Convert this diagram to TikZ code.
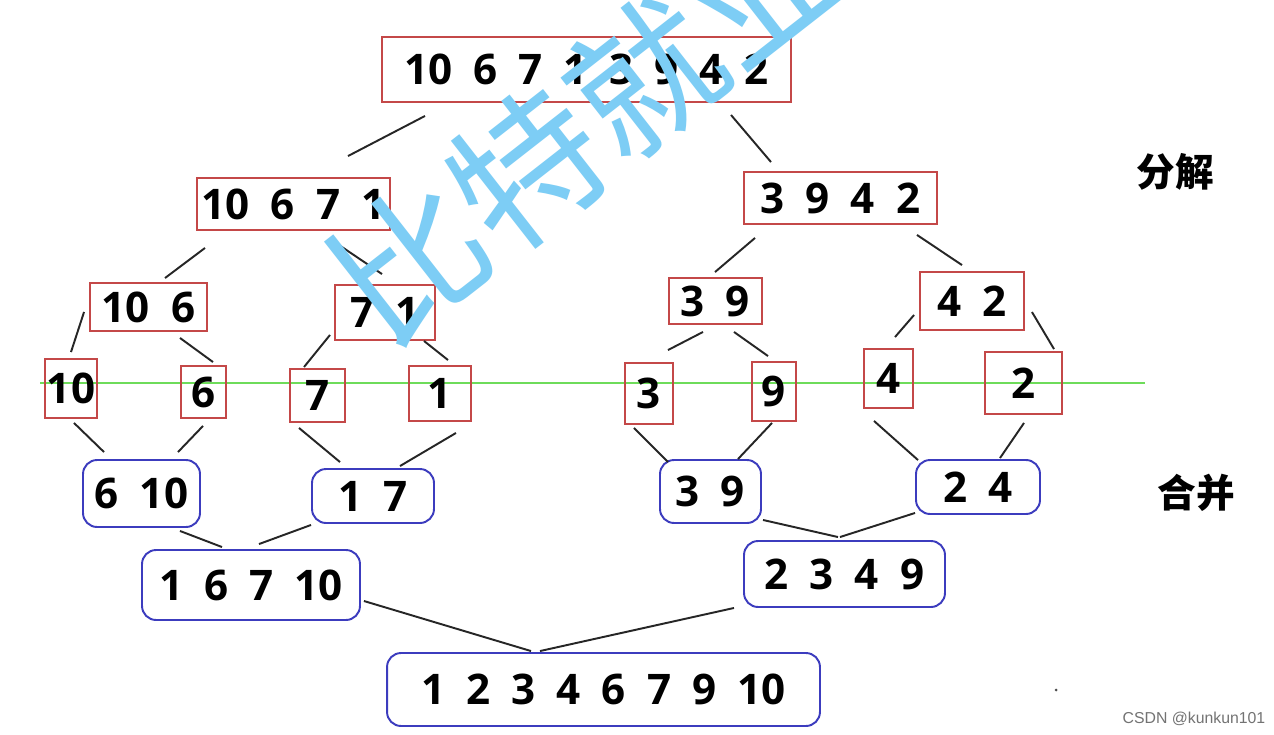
\documentclass[tikz,border=0pt]{standalone}
\usepackage{fontspec}
\setmainfont{Open Sans}
\newfontfamily\cjk{Noto Sans CJK SC}
\newfontfamily\csdnfont{Liberation Sans}
\usetikzlibrary{calc}
\definecolor{boxred}{RGB}{196,72,72}
\definecolor{boxblue}{RGB}{60,60,190}
\definecolor{lgreen}{RGB}{110,220,90}
\definecolor{wmblue}{RGB}{125,205,245}
\newcommand\gp{\hspace{0.42cm}}
\tikzset{
  numfont/.style={font=\fontsize{24}{28}\selectfont\bfseries},
  rbox/.style={draw=boxred, line width=1.1pt, inner sep=0pt, numfont},
  bbox/.style={draw=boxblue, line width=1.1pt, rounded corners=8pt, inner sep=0pt, numfont},
  conn/.style={line width=1.1pt, black!85},
  lbl/.style={font=\cjk\fontsize{22}{24}\selectfont\bfseries, inner sep=0pt},
}
\begin{document}
\begin{tikzpicture}[x=0.02cm,y=-0.02cm]
\useasboundingbox (0,0) rectangle (1274,734);
\fill[white] (0,0) rectangle (1274,734);

% green line
\coordinate (g1) at (40,383);
\coordinate (g2) at (1145,383);
\draw[lgreen, line width=1.3pt] (g1) -- (g2);

% red boxes
\node[rbox, minimum width=8.18cm, minimum height=1.30cm] (top) at (586.5,69.5) {10\gp 6\gp 7\gp 1\gp 3\gp 9\gp 4\gp 2};
\node[rbox, minimum width=3.86cm, minimum height=1.04cm] (n10671) at (293.5,204) {10\gp 6\gp 7\gp 1};
\node[rbox, minimum width=3.86cm, minimum height=1.04cm] (n3942) at (840.5,198) {3\gp 9\gp 4\gp 2};
\node[rbox, minimum width=2.34cm, minimum height=0.96cm] (n106) at (148.5,307) {10\gp 6};
\node[rbox, minimum width=2.00cm, minimum height=1.10cm] (n71) at (385,312.5) {7\gp 1};
\node[rbox, minimum width=1.86cm, minimum height=0.92cm] (n39r) at (715.5,301) {3\gp 9};
\node[rbox, minimum width=2.08cm, minimum height=1.16cm] (n42) at (972,301) {4\gp 2};
\node[rbox, minimum width=1.04cm, minimum height=1.18cm] (l10) at (71,388.5) {10};
\node[rbox, minimum width=0.90cm, minimum height=1.04cm] (l6) at (203.5,392) {6};
\node[rbox, minimum width=1.10cm, minimum height=1.06cm] (l7) at (317.5,395.5) {7};
\node[rbox, minimum width=1.24cm, minimum height=1.10cm] (l1) at (440,393.5) {1};
\node[rbox, minimum width=0.96cm, minimum height=1.22cm] (l3) at (649,393.5) {3};
\node[rbox, minimum width=0.88cm, minimum height=1.18cm] (l9) at (774,391.5) {9};
\node[rbox, minimum width=0.98cm, minimum height=1.18cm] (l4) at (888.5,378.5) {4};
\node[rbox, minimum width=1.54cm, minimum height=1.24cm] (l2) at (1023.5,383) {2};

% blue boxes
\node[bbox, minimum width=2.34cm, minimum height=1.34cm] (b610) at (141.5,493.5) {6\gp 10};
\node[bbox, minimum width=2.44cm, minimum height=1.08cm] (b17) at (373,496) {1\gp 7};
\node[bbox, minimum width=2.02cm, minimum height=1.26cm] (b39) at (710.5,491.5) {3\gp 9};
\node[bbox, minimum width=2.48cm, minimum height=1.08cm] (b24) at (978,487) {2\gp 4};
\node[bbox, minimum width=4.36cm, minimum height=1.40cm] (b16710) at (251,585) {1\gp 6\gp 7\gp 10};
\node[bbox, minimum width=4.02cm, minimum height=1.32cm] (b2349) at (844.5,574) {2\gp 3\gp 4\gp 9};
\node[bbox, minimum width=8.66cm, minimum height=1.46cm] (bfin) at (603.5,689.5) {1\gp 2\gp 3\gp 4\gp 6\gp 7\gp 9\gp 10};

% connectors (split)
\draw[conn] ($(top.south)+(-161.5,13)$) -- ($(n10671.north)+(54.5,-21)$);
\draw[conn] ($(top.south)+(144.5,12)$) -- ($(n3942.north)+(-69.5,-9)$);
\draw[conn] ($(n10671.south)+(-88.5,17)$) -- ($(n106.north)+(16.5,-4)$);
\draw[conn] ($(n10671.south)+(39.5,10)$) -- ($(n71.north)+(-3,-10)$);
\draw[conn] ($(n3942.south)+(-85.5,13)$) -- ($(n39r.north)+(-0.5,-5)$);
\draw[conn] ($(n3942.south)+(76.5,10)$) -- ($(n42.north)+(-10,-6)$);
\draw[conn] ($(n106.west)+(-5,5)$) -- ($(l10.north)+(0,-6)$);
\draw[conn] ($(n106.south)+(31.5,6)$) -- ($(l6.north)+(9.5,-3)$);
\draw[conn] ($(n71.south)+(-55,-6)$) -- ($(l7.north)+(-13.5,-1)$);
\draw[conn] ($(n71.south)+(39,0)$) -- ($(l1.north)+(8,-5)$);
\draw[conn] ($(n39r.south)+(-12.5,7)$) -- ($(l3.north)+(19,-12)$);
\draw[conn] ($(n39r.south)+(18.5,7)$) -- ($(l9.north)+(-6,-5)$);
\draw[conn] ($(n42.west)+(-5,14)$) -- ($(l4.north)+(6.5,-11)$);
\draw[conn] ($(n42.east)+(7,11)$) -- ($(l2.north)+(30.5,-2)$);

% connectors (merge)
\draw[conn] ($(l10.south)+(3,4)$) -- ($(b610.north)+(-37.5,-7)$);
\draw[conn] ($(l6.south)+(-0.5,7)$) -- ($(b610.north)+(36.5,-7)$);
\draw[conn] ($(l7.south)+(-18.5,5)$) -- ($(b17.north)+(-33,-6)$);
\draw[conn] ($(l1.south)+(16,11)$) -- ($(b17.north)+(27,-2)$);
\draw[conn] ($(l3.south)+(-15,3)$) -- ($(b39.north)+(-42.5,3)$);
\draw[conn] ($(l9.south)+(-2,1)$) -- ($(b39.north)+(27.5,0)$);
\draw[conn] ($(l4.south)+(-14.5,12)$) -- ($(b24.north)+(-60,1)$);
\draw[conn] ($(l2.south)+(0.5,8)$) -- ($(b24.north)+(22,-1)$);
\draw[conn] ($(b610.south)+(38.5,3)$) -- ($(b16710.north)+(-29,-2)$);
\draw[conn] ($(b17.south)+(-62,1)$) -- ($(b16710.north)+(8,-5)$);
\draw[conn] ($(b39.south)+(52.5,-4)$) -- ($(b2349.north)+(-6.5,-3)$);
\draw[conn] ($(b24.south)+(-63,-2)$) -- ($(b2349.north)+(-4.5,-3)$);
\draw[conn] ($(b16710.east)+(3,16)$) -- ($(bfin.north)+(-72.5,-1)$);
\draw[conn] ($(b2349.south)+(-110.5,0)$) -- ($(bfin.north)+(-63.5,-1)$);

% labels
\node[lbl] (fenjie) at (1175,172) {分解};
\node[lbl] (hebing) at (1196,493) {合并};
\node[text=black!55, font=\csdnfont\fontsize{9}{10}\selectfont, inner sep=0pt] (csdn) at (1194,719) {CSDN @kunkun101};
\fill[black!70] (1056,690) circle (0.03cm);

% watermark
\begin{scope}
\clip (0,0) rectangle (1274,734);
\node[text=wmblue, font=\cjk\fontsize{85}{90}\selectfont, rotate=38, inner sep=0pt] (wm) at (586,123) {比特就业};
\end{scope}
\end{tikzpicture}
\end{document}
